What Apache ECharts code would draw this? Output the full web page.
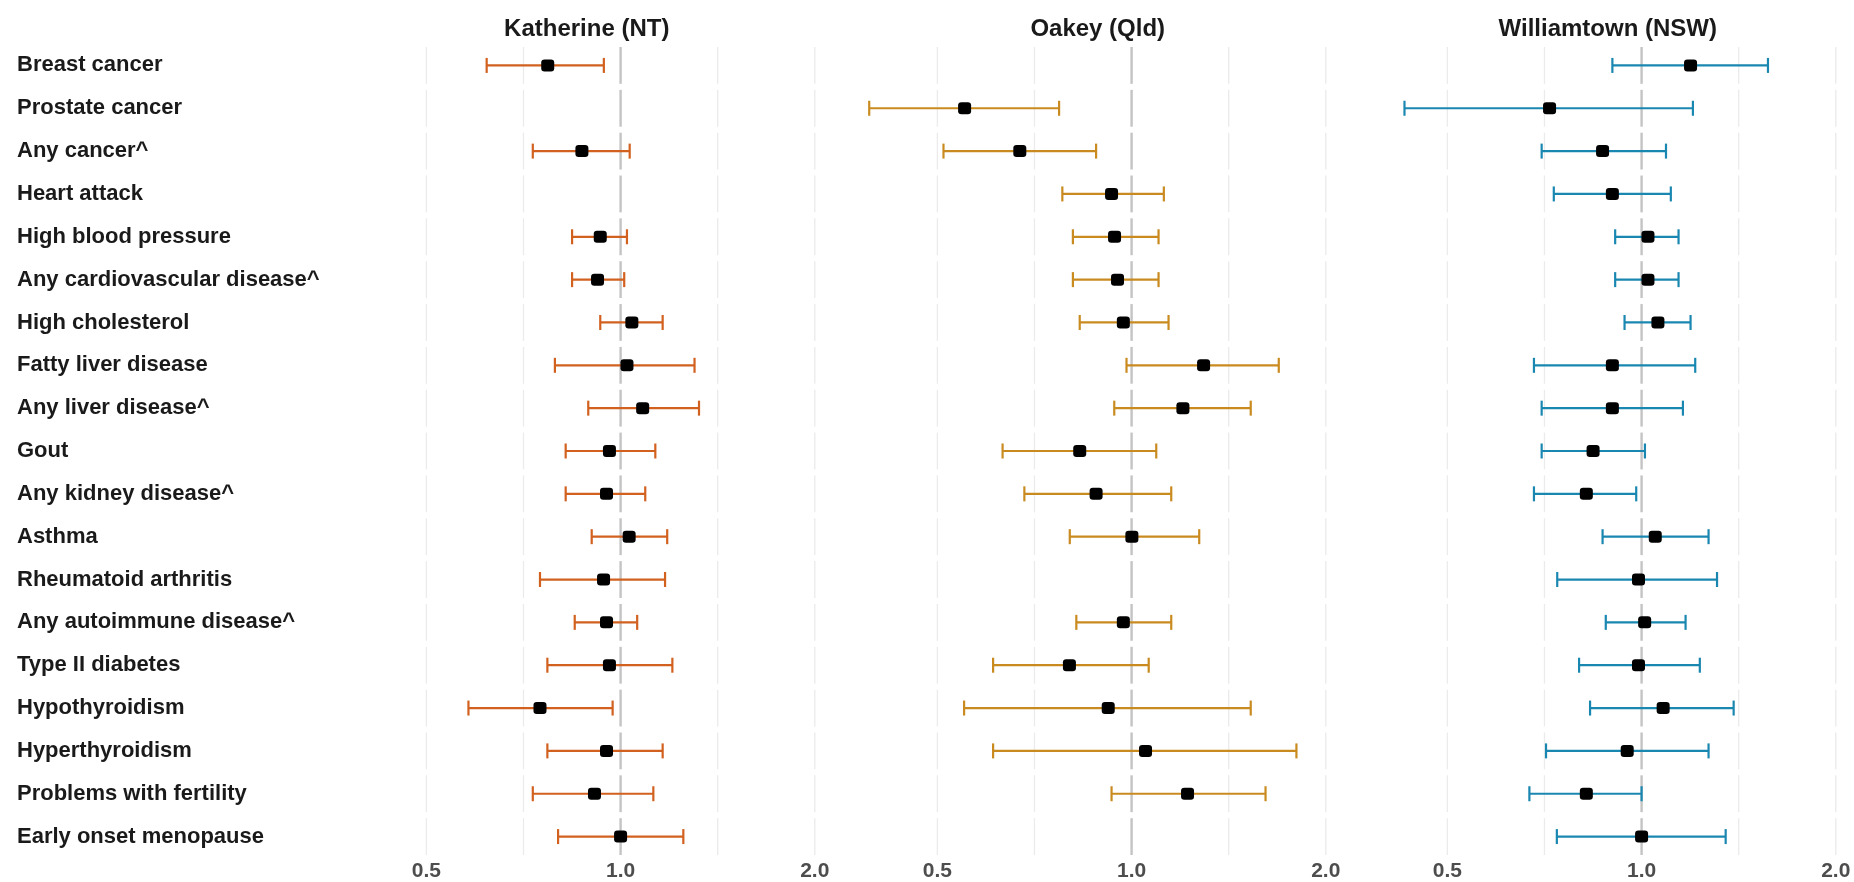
<!DOCTYPE html>
<html>
<head>
<meta charset="utf-8">
<script src="https://cdn.jsdelivr.net/npm/echarts@6/dist/echarts.min.js"></script>
<style>
  html, body { margin: 0; padding: 0; background: #fff; }
  #chart { width: 1854px; height: 882px; }
</style>
</head>
<body>
<div id="chart"></div>
<script>
const conditions = [
  'Breast cancer', 'Prostate cancer', 'Any cancer^', 'Heart attack', 'High blood pressure',
  'Any cardiovascular disease^', 'High cholesterol', 'Fatty liver disease', 'Any liver disease^',
  'Gout', 'Any kidney disease^', 'Asthma', 'Rheumatoid arthritis', 'Any autoimmune disease^',
  'Type II diabetes', 'Hypothyroidism', 'Hyperthyroidism', 'Problems with fertility', 'Early onset menopause'
]
const sites = ['Katherine (NT)', 'Oakey (Qld)', 'Williamtown (NSW)']
const siteColors = ['#D2601F', '#C98B20', '#1A87B1']

// ratio estimates and 95% CI, null = not reported
const katherineEst = [0.771, null, 0.871, null, 0.930, 0.921, 1.041, 1.023, 1.082, 0.961, 0.951, 1.031, 0.941, 0.951, 0.961, 0.750, 0.951, 0.911, 1.000]
const katherineLow = [0.620, null, 0.731, null, 0.841, 0.841, 0.930, 0.791, 0.891, 0.822, 0.822, 0.902, 0.750, 0.849, 0.770, 0.581, 0.770, 0.731, 0.800]
const katherineHigh = [0.942, null, 1.033, null, 1.023, 1.013, 1.162, 1.302, 1.323, 1.132, 1.092, 1.181, 1.172, 1.061, 1.203, 0.972, 1.162, 1.124, 1.251]

const oakeyEst = [null, 0.551, 0.671, 0.931, 0.941, 0.951, 0.971, 1.293, 1.201, 0.831, 0.881, 1.001, null, 0.971, 0.801, 0.920, 1.051, 1.221, null]
const oakeyLow = [null, 0.392, 0.511, 0.781, 0.811, 0.811, 0.831, 0.982, 0.940, 0.631, 0.682, 0.802, null, 0.821, 0.610, 0.550, 0.610, 0.931, null]
const oakeyHigh = [null, 0.772, 0.881, 1.122, 1.101, 1.101, 1.141, 1.691, 1.530, 1.092, 1.152, 1.273, null, 1.152, 1.063, 1.530, 1.801, 1.613, null]

const williamtownEst = [1.191, 0.720, 0.870, 0.901, 1.023, 1.023, 1.060, 0.901, 0.901, 0.841, 0.821, 1.050, 0.989, 1.011, 0.989, 1.080, 0.950, 0.821, 1.000]
const williamtownLow = [0.901, 0.429, 0.700, 0.731, 0.910, 0.910, 0.941, 0.681, 0.700, 0.700, 0.681, 0.870, 0.740, 0.880, 0.800, 0.832, 0.711, 0.670, 0.739]
const williamtownHigh = [1.570, 1.201, 1.091, 1.110, 1.141, 1.141, 1.191, 1.211, 1.159, 1.012, 0.981, 1.270, 1.309, 1.170, 1.231, 1.389, 1.270, 1.000, 1.350]

const xTicks = [0.5, 1, 2]
const gridBreaks = [0.5, Math.SQRT1_2, 1, Math.SQRT2, 2]

const est = [katherineEst, oakeyEst, williamtownEst]
const low = [katherineLow, oakeyLow, williamtownLow]
const high = [katherineHigh, oakeyHigh, williamtownHigh]

const log2 = v => Math.log(v) / Math.LN2
const panelLeft = [339, 850, 1360]
const panelWidth = 485.5
const fontFamily = 'Liberation Sans, Arial, sans-serif'

const chart = echarts.init(document.getElementById('chart'))

const grid = []
const xAxis = []
const yAxis = []
const title = []
const series = []

for (let p = 0; p < 3; p++) {
  grid.push({ left: panelLeft[p], width: panelWidth, top: 44, height: 815 })
  title.push({
    text: sites[p],
    left: panelLeft[p] + panelWidth / 2,
    top: 12,
    textAlign: 'center',
    textStyle: { fontFamily, fontSize: 24, fontWeight: 'bold', color: '#1a1a1a' }
  })
  xAxis.push({
    type: 'value',
    gridIndex: p,
    min: -1.45,
    max: 1.05,
    axisLine: { show: false },
    axisTick: { show: false },
    splitLine: { show: false },
    axisLabel: {
      customValues: xTicks.map(log2),
      formatter: v => Math.pow(2, v).toFixed(1),
      margin: 3,
      fontFamily,
      fontSize: 21,
      fontWeight: 'bold',
      color: '#4D4D4D'
    }
  })
  yAxis.push({
    type: 'category',
    gridIndex: p,
    data: conditions,
    inverse: true,
    axisLine: { show: false },
    axisTick: { show: false },
    splitLine: { show: false },
    axisLabel: {
      show: p === 0,
      align: 'left',
      margin: 322,
      fontFamily,
      fontSize: 22,
      fontWeight: 'bold',
      color: '#1a1a1a'
    }
  })

  // per-row grid segments (each row is its own facet)
  series.push({
    type: 'custom',
    xAxisIndex: p,
    yAxisIndex: p,
    silent: true,
    z: 1,
    data: conditions.map((c, i) => [i]),
    renderItem(params, api) {
      const row = api.value(0)
      const half = api.size([0, 1])[1] * 0.43
      const children = gridBreaks.map(b => {
        const pt = api.coord([log2(b), row])
        const ref = b === 1
        return {
          type: 'line',
          shape: { x1: pt[0], y1: pt[1] - half, x2: pt[0], y2: pt[1] + half },
          style: { stroke: ref ? '#C4C4C4' : '#EBEBEB', lineWidth: ref ? 2.4 : 1.3 }
        }
      })
      return { type: 'group', children }
    }
  })

  // confidence intervals
  const ciData = []
  conditions.forEach((c, i) => {
    if (est[p][i] != null) ciData.push([i, log2(low[p][i]), log2(high[p][i])])
  })
  series.push({
    type: 'custom',
    xAxisIndex: p,
    yAxisIndex: p,
    silent: true,
    z: 2,
    data: ciData,
    renderItem(params, api) {
      const a = api.coord([api.value(1), api.value(0)])
      const b = api.coord([api.value(2), api.value(0)])
      const cap = 7.5
      const style = { stroke: siteColors[p], lineWidth: 2.2 }
      return {
        type: 'group',
        children: [
          { type: 'line', shape: { x1: a[0], y1: a[1], x2: b[0], y2: b[1] }, style },
          { type: 'line', shape: { x1: a[0], y1: a[1] - cap, x2: a[0], y2: a[1] + cap }, style },
          { type: 'line', shape: { x1: b[0], y1: b[1] - cap, x2: b[0], y2: b[1] + cap }, style }
        ]
      }
    }
  })

  // point estimates
  const ptData = []
  conditions.forEach((c, i) => {
    if (est[p][i] != null) ptData.push([log2(est[p][i]), i])
  })
  series.push({
    type: 'scatter',
    xAxisIndex: p,
    yAxisIndex: p,
    z: 3,
    symbol: 'roundRect',
    symbolSize: [13, 12],
    itemStyle: { color: '#000', opacity: 1 },
    data: ptData
  })
}

chart.setOption({
  animation: false,
  backgroundColor: '#fff',
  title,
  grid,
  xAxis,
  yAxis,
  series
})
</script>
</body>
</html>
